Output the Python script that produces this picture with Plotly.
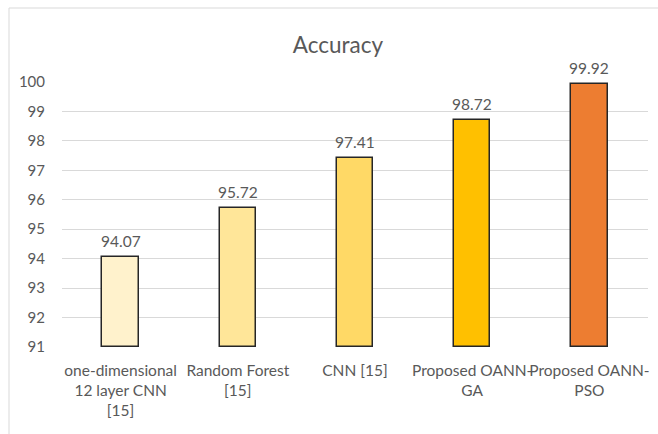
import plotly.graph_objects as go

# Accuracy of the compared methods
categories = [
    "one-dimensional<br>12 layer CNN<br>[15]",
    "Random Forest<br>[15]",
    "CNN [15]",
    "Proposed OANN-<br>GA",
    "Proposed OANN-<br>PSO",
]
accuracy = [94.07, 95.72, 97.41, 98.72, 99.92]
bar_colors = ["#FFF2CC", "#FFE699", "#FFD966", "#FFC000", "#ED7D31"]
y_ticks = [91, 92, 93, 94, 95, 96, 97, 98, 99, 100]
y_floor = 91

W, H = 658, 434
ML, MR, MT, MB = 62, 10, 82, 87
plot_w = W - ML - MR
plot_h = H - MT - MB

text_gray = "#595959"
font_family = "Lato, Roboto, sans-serif"

fig = go.Figure(
    go.Bar(
        x=categories,
        y=[v - y_floor for v in accuracy],
        base=y_floor,
        width=0.31,
        marker=dict(color=bar_colors, line=dict(color="#262626", width=1.5)),
        cliponaxis=False,
        hoverinfo="x+y",
    )
)

# value labels above each bar
annotations = [
    dict(
        x=c,
        y=v,
        xref="x",
        yref="y",
        text=f"{v:.2f}",
        showarrow=False,
        yanchor="bottom",
        yshift=5,
        font=dict(family=font_family, size=15.5, color=text_gray),
    )
    for c, v in zip(categories, accuracy)
]

fig.update_layout(
    width=W,
    height=H,
    margin=dict(l=ML, r=MR, t=MT, b=MB, autoexpand=False),
    paper_bgcolor="white",
    plot_bgcolor="white",
    showlegend=False,
    bargap=0,
    annotations=annotations,
    title=dict(
        text="Accuracy",
        font=dict(family=font_family, size=22.5, color=text_gray),
        xref="container",
        yref="container",
        x=338 / W,
        y=1 - 45 / H,
        xanchor="center",
        yanchor="middle",
    ),
    xaxis=dict(
        showgrid=False,
        showline=False,
        ticks="",
        tickangle=0,
        automargin=False,
        tickfont=dict(family=font_family, size=15.5, color=text_gray),
        ticklabelstandoff=12,
    ),
    yaxis=dict(
        range=[91, 100],
        tickvals=y_ticks,
        showgrid=True,
        gridcolor="#D9D9D9",
        gridwidth=1,
        zeroline=False,
        showline=False,
        ticks="",
        automargin=False,
        tickfont=dict(family=font_family, size=15, color=text_gray),
        ticklabelstandoff=16,
    ),
    shapes=[
        dict(
            type="rect",
            xref="paper",
            yref="paper",
            x0=(9 - ML) / plot_w,
            x1=(W + 20 - ML) / plot_w,
            y0=-(H + 20 - (MT + plot_h)) / plot_h,
            y1=(MT + plot_h - 8) / plot_h,
            line=dict(color="#D9D9D9", width=1),
            fillcolor="rgba(0,0,0,0)",
            layer="below",
        )
    ],
)

fig.write_html("out.html")
